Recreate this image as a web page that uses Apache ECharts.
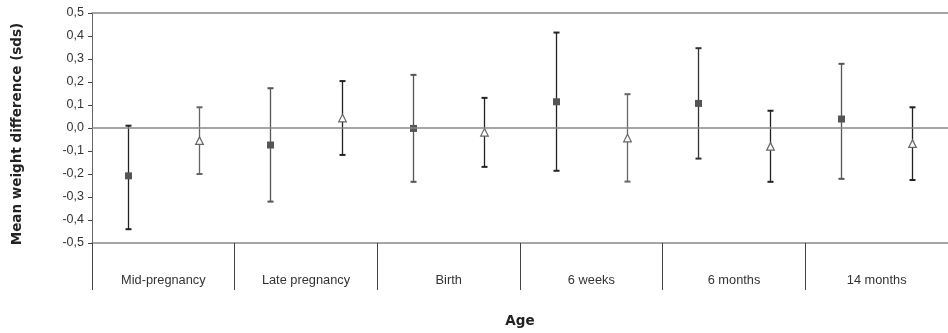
<!DOCTYPE html>
<html><head><meta charset="utf-8">
<script src="https://cdn.jsdelivr.net/npm/echarts@6/dist/echarts.min.js"></script>
<style>html,body{margin:0;padding:0;background:#fff}#c{width:948px;height:333px}</style>
</head><body><div id="c"></div>
<script>
var categories = ['Mid-pregnancy','Late pregnancy','Birth','6 weeks','6 months','14 months'];
var yTicks = [-0.5,-0.4,-0.3,-0.2,-0.1,0,0.1,0.2,0.3,0.4,0.5];
// group A (filled squares)
var meanA  = [-0.208,-0.074,-0.002, 0.114, 0.107, 0.039];
var upperA = [ 0.010, 0.173, 0.231, 0.415, 0.347, 0.279];
var lowerA = [-0.440,-0.320,-0.234,-0.186,-0.133,-0.221];
// group B (open triangles)
var meanB  = [-0.056, 0.042,-0.020,-0.045,-0.081,-0.069];
var upperB = [ 0.090, 0.204, 0.131, 0.147, 0.075, 0.090];
var lowerB = [-0.200,-0.117,-0.169,-0.233,-0.234,-0.226];
// bar stroke colours (style only)
var barColA = ['#222','#555','#555','#222','#333','#555'];
var barColB = ['#666','#222','#222','#666','#222','#222'];

function rows(m,u,l){ return m.map(function(v,i){ return [i,v,u[i],l[i]]; }); }

function makeRender(frac, kind, cols){
  return function(params, api){
    var i = api.value(0);
    var c = api.coord([i, api.value(1)]);
    var hi = api.coord([i, api.value(2)]);
    var lo = api.coord([i, api.value(3)]);
    var bw = api.size([1,0])[0];
    var x = Math.round(c[0] + frac*bw) + 0.5;
    var col = cols[params.dataIndex];
    var cap = 3;
    var lw = 1.3;
    var children = [
      {type:'line', shape:{x1:x,y1:hi[1],x2:x,y2:lo[1]}, style:{stroke:col,lineWidth:lw}},
      {type:'line', shape:{x1:x-cap,y1:hi[1],x2:x+cap,y2:hi[1]}, style:{stroke:col,lineWidth:2}},
      {type:'line', shape:{x1:x-cap,y1:lo[1],x2:x+cap,y2:lo[1]}, style:{stroke:col,lineWidth:2}}
    ];
    if (kind === 'square') {
      children.push({type:'rect', shape:{x:x-3.5,y:c[1]-3.5,width:7,height:7}, style:{fill:'#555',stroke:null}});
    } else {
      children.push({type:'polygon', shape:{points:[[x,c[1]-4],[x+3.8,c[1]+3.5],[x-3.8,c[1]+3.5]]}, style:{fill:'#fff',stroke:'#666',lineWidth:1.2}});
    }
    return {type:'group', children:children};
  };
}

var FONT = 'Liberation Sans, Arial, sans-serif';
var TFONT = 'DejaVu Sans, Verdana, sans-serif';
var chart = echarts.init(document.getElementById('c'), null, {renderer:'canvas'});
chart.setOption({
  animation:false,
  grid:{left:92,right:0,top:13,bottom:90,containLabel:false,outerBoundsMode:'none'},
  xAxis:[{
    type:'category', data:categories, boundaryGap:true, position:'bottom',
    axisLine:{show:true,onZero:false,lineStyle:{color:'#888',width:1.5}},
    axisTick:{show:true,interval:0,length:47,inside:false,lineStyle:{color:'#444',width:1}},
    axisLabel:{interval:0,margin:31,color:'#333',fontSize:12.8,fontFamily:FONT},
    name:'Age', nameLocation:'middle', nameGap:71,
    nameTextStyle:{fontSize:13.5,fontWeight:'bold',color:'#222',fontFamily:TFONT},
    splitLine:{show:false}
  },{
    type:'category', data:categories, position:'top',
    axisLine:{show:true,onZero:false,lineStyle:{color:'#888',width:1.5}},
    axisTick:{show:false}, axisLabel:{show:false}, splitLine:{show:false}
  }],
  yAxis:{
    type:'value', min:-0.5, max:0.5, interval:0.1,
    axisLine:{show:true,lineStyle:{color:'#666',width:1}},
    axisTick:{show:true,length:4,lineStyle:{color:'#444'}},
    splitLine:{show:false},
    axisLabel:{margin:8,color:'#333',fontSize:12.5,fontFamily:FONT,
      formatter:function(v){ return (Math.round(v*10)/10).toFixed(1).replace('.',','); }},
    name:'Mean weight difference (sds)', nameLocation:'middle', nameGap:68,
    nameTextStyle:{fontSize:13.5,fontWeight:'bold',color:'#222',fontFamily:TFONT,padding:[0,12,0,0]}
  },
  series:[
    {type:'custom', xAxisIndex:0, renderItem:makeRender(-0.25,'square',barColA), data:rows(meanA,upperA,lowerA), z:3,
     markLine:{silent:true,symbol:'none',label:{show:false},lineStyle:{color:'#888',width:1.5,type:'solid'},data:[{yAxis:0}]}},
    {type:'custom', xAxisIndex:0, renderItem:makeRender(0.25,'triangle',barColB), data:rows(meanB,upperB,lowerB), z:3}
  ]
});
</script></body></html>
